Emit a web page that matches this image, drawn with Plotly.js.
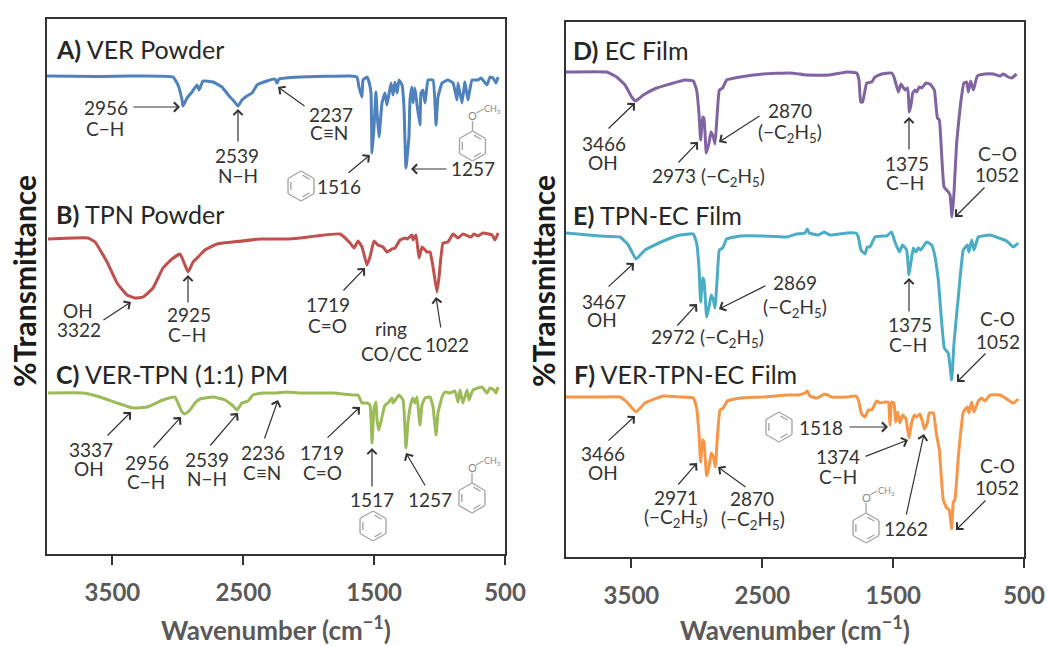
<!DOCTYPE html>
<html><head><meta charset="utf-8">
<script src="https://cdn.plot.ly/plotly-3.0.1.min.js"></script>
<style>html,body{margin:0;padding:0;background:#fff}#c{width:1047px;height:646px}</style>
</head><body><div id="c"></div>
<script>
// Wavenumber (cm-1) and stacked, offset transmittance (arbitrary units)
const xA=[4000,3595,3366,3037,2999,2968,2961,2930,2892,2854,2838,2808,2731,2663,2602,2579,2540,2510,2472,2433,2395,2319,2258,2242,2227,2067,1684,1631,1616,1593,1585,1555,1539,1524,1516,1501,1486,1478,1463,1440,1417,1402,1371,1356,1341,1325,1310,1287,1272,1257,1234,1226,1211,1203,1188,1172,1150,1142,1127,1111,1088,1050,1027,1012,981,936,897,867,859,829,806,783,752,706,683,638,615,592,569,553];
const yA=[478,477.5,478,477,469,454,448,456,462,469,464,473,472,467,457,454,448,454,458,461,469,473,475,471,475,477,478,477,467,457,474,477,472,461,401,427,462,442,417,451,461,449,471,459,472,461,474,469,447,386,417,454,467,451,466,449,429,461,464,451,474,474,429,457,471,474,471,454,471,451,472,454,474,474,476,469,477,476,471,477];
const xB=[3992,3687,3633,3541,3465,3389,3328,3266,3190,3114,3045,2984,2961,2922,2884,2846,2793,2701,2579,2372,2166,2067,1761,1684,1654,1623,1593,1555,1532,1501,1470,1432,1402,1364,1341,1302,1264,1249,1211,1203,1180,1157,1134,1111,1096,1073,1050,1020,1004,974,936,897,859,821,760,737,706,668,599,576,553];
const yB=[315,316,312,292,271,259,256,257,266,286,295,300,294,282,292,297,304,310,312,315,315,316,320,311,306,313,307,289,297,313,309,307,302,305,306,314,316,315,319,314,319,296,307,304,302,302,287,262,277,311,312,320,316,320,317,320,318,321,319,314,321];
const xC=[3992,3725,3595,3465,3343,3236,3114,3022,2999,2968,2945,2907,2869,2831,2731,2640,2586,2548,2510,2464,2426,2349,2242,2166,2067,1814,1662,1623,1593,1555,1532,1516,1501,1486,1478,1463,1440,1417,1394,1364,1356,1310,1279,1257,1241,1218,1203,1188,1172,1150,1134,1111,1073,1050,1027,1012,981,959,920,882,859,844,821,790,775,745,676,638,615,584,569,553];
const yC=[161,161,157,151,146,147,154,157,151,142,140,144,151,155,157,154,149,144,151,153,159,161,161,162,161,161,159,159,151,151,149,111,146,152,134,124,137,149,151,156,151,159,154,106,132,151,156,151,157,129,149,156,157,147,119,141,157,162,161,163,152,164,151,164,154,164,167,161,166,164,161,167];
const xD=[4000,3689,3613,3549,3498,3468,3409,3307,3205,3091,3027,3002,2984,2971,2956,2946,2928,2907,2892,2874,2861,2844,2828,2803,2772,2670,2492,2288,2161,1983,1855,1779,1761,1748,1733,1702,1664,1639,1588,1511,1491,1460,1440,1409,1389,1376,1361,1351,1333,1320,1300,1282,1249,1218,1185,1162,1147,1111,1078,1065,1050,1035,1015,984,959,938,925,908,887,857,798,734,683,658,620,594,556];
const yD=[485,485,480,472,460,456,462,469,473,477,476,467,444,417,440,439,404,414,425,420,413,444,467,469,477,480,483,484,482,482,485,484,477,455,455,474,475,480,483,484,479,465,473,467,469,445,454,464,467,465,470,469,474,473,467,439,437,370,365,362,340,364,414,454,474,475,465,476,467,481,483,483,481,483,480,479,483];
const xE=[4000,3740,3587,3524,3465,3396,3256,3129,3027,3002,2984,2971,2956,2946,2925,2907,2890,2874,2861,2844,2828,2803,2772,2670,2492,2314,2237,2174,2156,2141,2072,2026,1983,1855,1784,1766,1746,1715,1698,1677,1639,1575,1550,1512,1486,1453,1428,1397,1379,1364,1346,1326,1308,1290,1244,1206,1186,1155,1109,1079,1053,1035,1002,964,933,921,900,882,849,760,671,633,582,544];
const yE=[324,321,320,312,298,307,316,322,323,314,290,255,279,277,240,250,262,257,249,280,307,309,318,321,321,320,323,324,328,324,322,325,322,324,324,320,307,303,310,310,320,321,321,325,315,305,312,307,282,295,309,305,309,307,315,312,304,277,209,204,177,214,260,307,312,305,317,307,320,322,318,316,310,314];
const xF=[4000,3740,3587,3536,3465,3396,3256,3129,3027,3002,2984,2971,2956,2946,2925,2907,2890,2874,2859,2841,2823,2798,2767,2670,2492,2314,2225,2174,2156,2136,2085,2021,1970,1855,1784,1766,1741,1715,1690,1664,1626,1601,1563,1537,1524,1512,1494,1481,1466,1448,1428,1402,1379,1359,1338,1321,1295,1275,1262,1239,1224,1193,1168,1147,1117,1091,1071,1053,1040,1028,1002,964,933,921,900,882,849,824,798,760,684,633,582,544];
const yF=[160,160,160,155,145,154,161,160,159,149,124,95,117,115,81,90,104,100,90,124,147,149,156,159,160,162,162,164,166,161,159,163,160,160,161,157,143,140,147,147,156,154,155,155,132,155,154,135,145,134,142,138,119,134,142,140,143,135,128,134,144,144,122,107,57,49,47,28,55,57,100,145,150,144,155,145,156,159,156,162,162,158,154,158];
const tickVals=[3500,2500,1500,500];
const tickText=['3500','2500','1500','500'];
const W=1047,H=646;
const px=v=>v/W, py=v=>1-v/H;
const annotations=[], shapes=[];
const TXT='#333333', FS=19, GRAY='#a6a6a6';
function label(x,y,t,size){annotations.push({xref:'paper',yref:'paper',x:px(x),y:py(y),text:t,showarrow:false,xanchor:'center',yanchor:'middle',font:{family:'Lato',size:size||FS,color:TXT}});}
function head(x,y,t){annotations.push({xref:'paper',yref:'paper',x:px(x-3),y:py(y),text:t,showarrow:false,xanchor:'left',yanchor:'middle',font:{family:'Lato',size:25,color:'#262626'}});}
function arrow(x0,y0,x1,y1){annotations.push({xref:'paper',yref:'paper',x:px(x1),y:py(y1),axref:'pixel',ayref:'pixel',ax:x0-x1,ay:y0-y1,text:'',showarrow:true,arrowhead:4,arrowsize:1.5,arrowwidth:1.2,arrowcolor:'#333333',standoff:0,startstandoff:0});}
function seg(a,b,c,d){shapes.push({type:'line',xref:'paper',yref:'paper',x0:px(a),y0:py(b),x1:px(c),y1:py(d),line:{color:GRAY,width:1.4}});}
function ring(cx,cy,r){
  const pts=[];for(let i=0;i<6;i++){const t=Math.PI/3*i-Math.PI/2;pts.push([cx+r*Math.cos(t),cy+r*Math.sin(t)]);}
  for(let i=0;i<6;i++){const p=pts[i],q=pts[(i+1)%6];seg(p[0],p[1],q[0],q[1]);}
  [0,2,4].forEach(i=>{const p=pts[i],q=pts[(i+1)%6],k=.78;seg(cx+(p[0]-cx)*k+(q[0]-p[0])*.12,cy+(p[1]-cy)*k+(q[1]-p[1])*.12,cx+(q[0]-cx)*k-(q[0]-p[0])*.12,cy+(q[1]-cy)*k-(q[1]-p[1])*.12);});
}
function anisole(cx,cy){
  ring(cx,cy,15);
  seg(cx,cy-15,cx,cy-25);
  annotations.push({xref:'paper',yref:'paper',x:px(cx),y:py(cy-31),text:'O',showarrow:false,xanchor:'center',yanchor:'middle',font:{family:'Lato',size:11,color:'#8c8c8c'}});
  seg(cx+4,cy-33,cx+11,cy-37);
  annotations.push({xref:'paper',yref:'paper',x:px(cx+20),y:py(cy-37),text:'CH<sub>3</sub>',showarrow:false,xanchor:'center',yanchor:'middle',font:{family:'Lato',size:9,color:'#8c8c8c'}});
}
const C2H5='(−C<sub>2</sub>H<sub>5</sub>)';
// Panel A
head(57,49,'<b>A)</b> VER Powder');
label(106,107,'2956');label(105,128,'C−H');arrow(132,107,180,107);
label(237,155,'2539');label(238,175,'N−H');arrow(238,143,238,109);
label(331,114,'2237');label(329,133,'C≡N');arrow(306,107,278,87);
label(339,186,'1516');ring(301,186,15);arrow(347,174,370,155);
label(473,168,'1257');arrow(448,169,411,169);anisole(472.5,146);
// Panel B
head(57,214,'<b>B)</b> TPN Powder');
label(78,310,'OH');label(79,329,'3322');arrow(102,321,131,302);
label(189,314,'2925');label(187,334,'C−H');arrow(188,304,188,275);
label(328,304,'1719');label(327,325,'C=O');arrow(342,292,365,268);
label(391,328,'ring');label(391,353,'CO/CC');label(447,345,'1022');arrow(441,329,436,297);
// Panel C
head(57,374,'<b>C)</b> VER-TPN (1:1) PM');
label(91,449,'3337');label(89,468,'OH');arrow(106,437,131,412);
label(147,462,'2956');label(146,482,'C−H');arrow(152,449,181,417);
label(207,459,'2539');label(207,478,'N−H');arrow(209,447,238,413);
label(263,452,'2236');label(262,472,'C≡N');arrow(264,440,278,400);
label(322,452,'1719');label(322,472,'C=O');arrow(326,439,360,407);
label(372,499,'1517');ring(373,526,15);arrow(372,488,372,448);
label(430,499,'1257');arrow(426,487,406,453);anisole(472,498);
// Panel D
head(574,50,'<b>D)</b> EC Film');
label(604,143,'3466');label(603,162,'OH');arrow(607,130,635,103);
label(708,177,'2973 '+C2H5);arrow(677,164,698,142);
label(790,111,'2870');label(790,133,C2H5);arrow(761,115,719,142);
label(907,163,'1375');label(905,183,'C−H');arrow(909,151,909,117);
label(997,154,'C−O');label(997,174,'1052');arrow(986,186,955,217);
// Panel E
head(574,215,'<b>E)</b> TPN-EC Film');
label(604,301,'3467');label(602,320,'OH');arrow(607,288,634,263);
label(707,338,'2972 '+C2H5);arrow(676,327,697,304);
label(795,283,'2869');label(795,308,C2H5);arrow(767,285,719,309);
label(910,324,'1375');label(908,344,'C−H');arrow(909,313,909,278);
label(998,319,'C-O');label(998,341,'1052');arrow(987,352,957,382);
// Panel F
head(575,374,'<b>F)</b> VER-TPN-EC Film');
label(603,453,'3466');label(603,472,'OH');arrow(607,442,635,416);
label(676,497,'2971');label(676,518,C2H5);arrow(677,486,697,463);
label(752,498,'2870');label(753,520,C2H5);arrow(747,488,718,467);
ring(779,427,15);label(821,427,'1518');arrow(848,427,888,427);
label(838,457,'1374');label(838,476,'C−H');arrow(864,457,908,440);
label(906,528,'1262');arrow(906,516,924,434);anisole(866,528);
label(997,465,'C-O');label(997,487,'1052');arrow(987,499,956,530);
// y axis titles
[24,543].forEach(x=>annotations.push({xref:'paper',yref:'paper',x:px(x),y:py(281),text:'<b>%Transmittance</b>',textangle:-90,showarrow:false,xanchor:'center',yanchor:'middle',font:{family:'Lato',size:30,color:'#1a1a1a'}}));

const line=(x,y,c,xa,ya,n)=>({type:'scatter',mode:'lines',x:x,y:y,name:n,xaxis:xa,yaxis:ya,line:{color:c,width:3,shape:'spline',smoothing:0.35},hoverinfo:'skip'});
const data=[
 line(xA,yA,'#4f81bd','x','y','VER Powder'),
 line(xB,yB,'#c0504d','x','y','TPN Powder'),
 line(xC,yC,'#9bbb59','x','y','VER-TPN (1:1) PM'),
 line(xD,yD,'#8064a2','x2','y2','EC Film'),
 line(xE,yE,'#4bacc6','x2','y2','TPN-EC Film'),
 line(xF,yF,'#f79646','x2','y2','VER-TPN-EC Film')];
const xax=(dom,yref,standoff)=>({domain:dom,anchor:yref,range:[4000,500],showgrid:false,zeroline:false,showline:true,mirror:true,linecolor:'#333333',linewidth:2,
  ticks:'outside',ticklen:9,tickwidth:2,tickcolor:'#333333',tickmode:'array',tickvals:tickVals,ticktext:tickText,ticklabelstandoff:7,
  tickfont:{family:'Lato',size:24,weight:700,color:'#595959'},
  title:{text:'<b>Wavenumber (cm<sup>−1</sup>)</b>',standoff:standoff,font:{family:'Lato',size:26,color:'#595959'}}});
const yax=(dom,xref)=>({domain:dom,anchor:xref,range:[0,535],showgrid:false,zeroline:false,showline:true,mirror:true,linecolor:'#333333',linewidth:2,ticks:'',showticklabels:false});
const layout={width:W,height:H,margin:{l:0,r:0,t:0,b:0},paper_bgcolor:'#fff',plot_bgcolor:'#fff',showlegend:false,hovermode:false,
  xaxis:xax([47/W,505/W],'y',20),yaxis:yax([1-554/H,1-19/H],'x'),
  xaxis2:xax([566/W,1024/W],'y2',20),yaxis2:yax([1-557/H,1-22/H],'x2'),
  annotations:annotations,shapes:shapes};
Plotly.newPlot('c',data,layout,{displayModeBar:false,staticPlot:true});
</script></body></html>
